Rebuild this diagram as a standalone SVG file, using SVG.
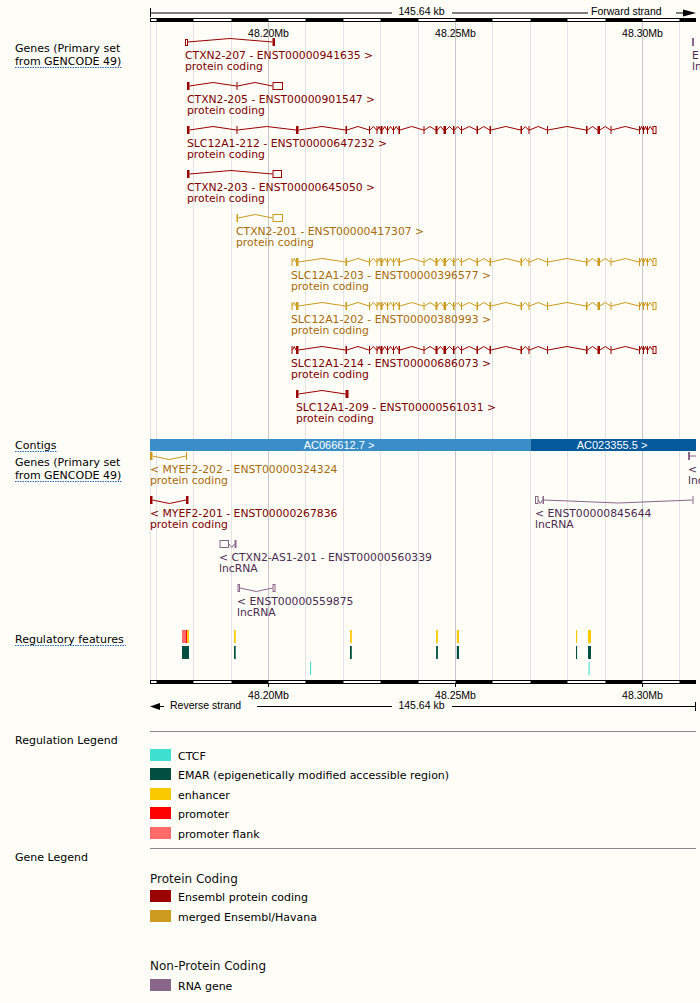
<svg xmlns="http://www.w3.org/2000/svg" width="700" height="1003" viewBox="0 0 700 1003">
<style>
.lab{font-family:"DejaVu Sans","Liberation Sans",sans-serif;font-size:11px;fill:#000}
.hd{font-family:"DejaVu Sans","Liberation Sans",sans-serif;font-size:12px;fill:#111}
.gl{font-family:"DejaVu Sans","Liberation Sans",sans-serif;font-size:10.8px}
.ru{font-family:"Liberation Sans",Arial,sans-serif;font-size:10.5px;fill:#000}
.ct{font-family:"Liberation Sans",Arial,sans-serif;font-size:11px;fill:#fff}
.ul{stroke:#2b6cb8;stroke-width:1;stroke-dasharray:1.5 1}
.gm{stroke:#e3e3e3;stroke-width:1}
.gM{stroke:#c6c6c6;stroke-width:1}
.intr{fill:none;stroke:currentColor;stroke-width:1}
.utr{fill:#fefdf7;stroke:currentColor;stroke-width:1}
.tr{fill:#7d0000}
.tg{fill:#a86b0a}
.tp{fill:#4b2c50}
.blk{fill:#000}
</style>
<defs>
<g id="slc" fill="currentColor">
<polyline class="intr" points="298.5,0 322,-3.5 345.5,0 347,0 358,-3.5 369,0 370,0 373.25,-3.5 376.5,0 377.5,0 379,-3.5 380.5,0 382.5,0 384.75,-3.5 387,0 388,0 390.5,-3.5 393,0 394,0 396.25,-3.5 398.5,0 400,0 411.75,-3.5 423.5,0 424.5,0 430,-3.5 435.5,0 437.5,0 440.5,-3.5 443.5,0 446,0 449.5,-3.5 453,0 454.5,0 457.75,-3.5 461,0 462,0 469.25,-3.5 476.5,0 478,0 483.75,-3.5 489.5,0 491,0 505.75,-3.5 520.5,0 522,0 525.25,-3.5 528.5,0 529.5,0 538.25,-3.5 547,0 548,0 567,-3.5 586,0 587.5,0 592.5,-3.5 597.5,0 600,0 605.25,-3.5 610.5,0 611.5,0 625.25,-3.5 639,0 640,0 641.5,-3.5 643,0 644,0 645.5,-3.5 647,0 648,0 650.25,-3.5 652.5,0"/>
<rect x="296" y="-4" width="2.5" height="8"/>
<rect x="345.5" y="-4" width="1.5" height="8"/>
<rect x="369" y="-4" width="1" height="8"/>
<rect x="376.5" y="-4" width="1" height="8"/>
<rect x="380.5" y="-4" width="2" height="8"/>
<rect x="387" y="-4" width="1" height="8"/>
<rect x="393" y="-4" width="1" height="8"/>
<rect x="398.5" y="-4" width="1.5" height="8"/>
<rect x="423.5" y="-4" width="1" height="8"/>
<rect x="435.5" y="-4" width="2" height="8"/>
<rect x="443.5" y="-4" width="2.5" height="8"/>
<rect x="453" y="-4" width="1.5" height="8"/>
<rect x="461" y="-4" width="1" height="8"/>
<rect x="476.5" y="-4" width="1.5" height="8"/>
<rect x="489.5" y="-4" width="1.5" height="8"/>
<rect x="520.5" y="-4" width="1.5" height="8"/>
<rect x="528.5" y="-4" width="1" height="8"/>
<rect x="547" y="-4" width="1" height="8"/>
<rect x="586" y="-4" width="1.5" height="8"/>
<rect x="597.5" y="-4" width="2.5" height="8"/>
<rect x="610.5" y="-4" width="1" height="8"/>
<rect x="639" y="-4" width="1" height="8"/>
<rect x="643" y="-4" width="1" height="8"/>
<rect x="647" y="-4" width="1" height="8"/>
<rect class="utr" x="653" y="-3.5" width="3" height="7"/>
</g>
</defs>

<rect x="0" y="0" width="700" height="1003" fill="#fefdf7"/>

<g id="grid">
<line class="gm" x1="150.5" y1="22" x2="150.5" y2="680"/>
<line class="gm" x1="156.5" y1="22" x2="156.5" y2="680"/>
<line class="gm" x1="193.5" y1="22" x2="193.5" y2="680"/>
<line class="gm" x1="231.5" y1="22" x2="231.5" y2="680"/>
<line class="gM" x1="268.5" y1="22" x2="268.5" y2="680"/>
<line class="gm" x1="305.5" y1="22" x2="305.5" y2="680"/>
<line class="gm" x1="343.5" y1="22" x2="343.5" y2="680"/>
<line class="gm" x1="380.5" y1="22" x2="380.5" y2="680"/>
<line class="gm" x1="418.5" y1="22" x2="418.5" y2="680"/>
<line class="gM" x1="455.5" y1="22" x2="455.5" y2="680"/>
<line class="gm" x1="492.5" y1="22" x2="492.5" y2="680"/>
<line class="gm" x1="530.5" y1="22" x2="530.5" y2="680"/>
<line class="gm" x1="567.5" y1="22" x2="567.5" y2="680"/>
<line class="gm" x1="605.5" y1="22" x2="605.5" y2="680"/>
<line class="gM" x1="642.5" y1="22" x2="642.5" y2="680"/>
<line class="gm" x1="679.5" y1="22" x2="679.5" y2="680"/>
</g>

<g id="ruler-top">
<line x1="150.5" y1="8" x2="150.5" y2="17" stroke="#000"/>
<line x1="150.5" y1="13" x2="392" y2="13" stroke="#000"/>
<text class="ru" x="421.5" y="15" text-anchor="middle">145.64 kb</text>
<line x1="452" y1="13" x2="588" y2="13" stroke="#000"/>
<text class="ru" x="591" y="15">Forward strand</text>
<line x1="676" y1="13" x2="684" y2="13" stroke="#000"/>
<polygon points="683,9.5 696,13 683,16.5" fill="#000"/>
<rect x="150.5" y="18.5" width="545" height="3" fill="#fff" stroke="#000"/>
<rect class="blk" x="156.5" y="18" width="37" height="4"/>
<rect class="blk" x="231.5" y="18" width="37" height="4"/>
<rect class="blk" x="305.5" y="18" width="38" height="4"/>
<rect class="blk" x="380.5" y="18" width="38" height="4"/>
<rect class="blk" x="455.5" y="18" width="37" height="4"/>
<rect class="blk" x="530.5" y="18" width="37" height="4"/>
<rect class="blk" x="605.5" y="18" width="37" height="4"/>
<rect class="blk" x="679.5" y="18" width="16.5" height="4"/>
<text class="ru" x="268.5" y="36.5" text-anchor="middle">48.20Mb</text>
<text class="ru" x="455.5" y="36.5" text-anchor="middle">48.25Mb</text>
<text class="ru" x="642.5" y="36.5" text-anchor="middle">48.30Mb</text>
</g>

<g id="track-labels">
<text class="lab" x="15" y="52">Genes (Primary set</text>
<text class="lab" x="15" y="65">from GENCODE 49)</text>
<line class="ul" x1="15" y1="67.5" x2="122" y2="67.5"/>
<text class="lab" x="15" y="449">Contigs</text>
<line class="ul" x1="15" y1="451.5" x2="57" y2="451.5"/>
<text class="lab" x="15" y="466">Genes (Primary set</text>
<text class="lab" x="15" y="479">from GENCODE 49)</text>
<line class="ul" x1="15" y1="481.5" x2="122" y2="481.5"/>
<text class="lab" x="15" y="643">Regulatory features</text>
<line class="ul" x1="15" y1="645.5" x2="126" y2="645.5"/>
</g>

<g id="connectors"></g>

<g id="CTXN2-207" color="#9a0000" fill="currentColor">
<polyline class="intr" points="187.5,42 230,38.5 272.5,42"/>
<rect class="utr" x="185.5" y="39.5" width="2" height="6"/>
<rect x="272.5" y="38" width="2.5" height="8"/>
<text class="gl tr" x="185" y="58.5">CTXN2-207 - ENST00000941635 &gt;</text>
<text class="gl tr" x="185" y="69.5">protein coding</text>
</g>

<g id="lnc-top-right" color="#8b668b" fill="currentColor">
<rect x="692" y="38" width="2" height="8"/>
<text class="gl tp" x="692" y="58.5">E</text>
<text class="gl tp" x="692" y="69.5">ln</text>
</g>

<g id="CTXN2-205" color="#9a0000" fill="currentColor">
<polyline class="intr" points="189.5,86 213,82.5 236.5,86 237.5,86 255,82.5 272.5,86"/>
<rect x="187" y="82" width="2.5" height="8"/>
<rect x="236.5" y="82" width="1" height="8"/>
<rect class="utr" x="273" y="82.5" width="9.5" height="7"/>
<text class="gl tr" x="187" y="102.5">CTXN2-205 - ENST00000901547 &gt;</text>
<text class="gl tr" x="187" y="113.5">protein coding</text>
</g>

<g id="SLC12A1-212" color="#9a0000" fill="currentColor">
<polyline class="intr" points="189.5,130 213,126.5 236.5,130 237.5,130 266.75,126.5 296,130"/>
<rect x="187" y="126" width="2.5" height="8"/>
<rect x="236.5" y="126" width="1" height="8"/>
<use href="#slc" y="130"/>
<text class="gl tr" x="187" y="146.5">SLC12A1-212 - ENST00000647232 &gt;</text>
<text class="gl tr" x="187" y="157.5">protein coding</text>
</g>

<g id="CTXN2-203" color="#9a0000" fill="currentColor">
<polyline class="intr" points="189.5,174 231,170.5 272.5,174"/>
<rect x="187" y="170" width="2.5" height="8"/>
<rect class="utr" x="273" y="170.5" width="8.5" height="7"/>
<text class="gl tr" x="187" y="190.5">CTXN2-203 - ENST00000645050 &gt;</text>
<text class="gl tr" x="187" y="201.5">protein coding</text>
</g>

<g id="CTXN2-201" color="#cd9b1d" fill="currentColor">
<polyline class="intr" points="238,218 255.25,214.5 272.5,218"/>
<rect x="236.5" y="214" width="1.5" height="8"/>
<rect class="utr" x="273" y="214.5" width="9.5" height="7"/>
<text class="gl tg" x="236" y="234.5">CTXN2-201 - ENST00000417307 &gt;</text>
<text class="gl tg" x="236" y="245.5">protein coding</text>
</g>

<g id="SLC12A1-203" color="#cd9b1d" fill="currentColor">
<polyline class="intr" points="292.5,262 294.25,258.5 296,262"/>
<rect x="291.5" y="258" width="1" height="8"/>
<use href="#slc" y="262"/>
<text class="gl tg" x="291" y="278.5">SLC12A1-203 - ENST00000396577 &gt;</text>
<text class="gl tg" x="291" y="289.5">protein coding</text>
</g>

<g id="SLC12A1-202" color="#cd9b1d" fill="currentColor">
<polyline class="intr" points="292.5,306 294.25,302.5 296,306"/>
<rect x="291.5" y="302" width="1" height="8"/>
<use href="#slc" y="306"/>
<text class="gl tg" x="291" y="322.5">SLC12A1-202 - ENST00000380993 &gt;</text>
<text class="gl tg" x="291" y="333.5">protein coding</text>
</g>

<g id="SLC12A1-214" color="#9a0000" fill="currentColor">
<polyline class="intr" points="292.5,350 294.25,346.5 296,350"/>
<rect x="291.5" y="346" width="1" height="8"/>
<use href="#slc" y="350"/>
<text class="gl tr" x="291" y="366.5">SLC12A1-214 - ENST00000686073 &gt;</text>
<text class="gl tr" x="291" y="377.5">protein coding</text>
</g>

<g id="SLC12A1-209" color="#9a0000" fill="currentColor">
<polyline class="intr" points="298.5,394 322,390.5 345.5,394"/>
<rect x="296" y="390" width="2.5" height="8"/>
<rect x="345.5" y="390" width="3" height="8"/>
<text class="gl tr" x="296" y="410.5">SLC12A1-209 - ENST00000561031 &gt;</text>
<text class="gl tr" x="296" y="421.5">protein coding</text>
</g>

<g id="contigs">
<rect x="150" y="439" width="380.5" height="12" fill="#398ec8"/>
<rect x="530.5" y="439" width="165.5" height="12" fill="#03599c"/>
<text class="ct" x="339" y="448.5" text-anchor="middle">AC066612.7 &gt;</text>
<text class="ct" x="612" y="448.5" text-anchor="middle">AC023355.5 &gt;</text>
</g>

<g id="MYEF2-202" color="#cd9b1d" fill="currentColor">
<polyline class="intr" points="152.5,456 169.25,459.5 186,456"/>
<rect x="150" y="452" width="2.5" height="8"/>
<rect x="186" y="452" width="1" height="8"/>
<text class="gl tg" x="150" y="473">&lt; MYEF2-202 - ENST00000324324</text>
<text class="gl tg" x="150" y="484">protein coding</text>
</g>

<g id="lnc-right-edge" color="#8b668b" fill="currentColor">
<line x1="690" y1="456" x2="696" y2="456" stroke="currentColor"/>
<rect x="688" y="452" width="2" height="8"/>
<text class="gl tp" x="688" y="473">&lt;</text>
<text class="gl tp" x="688" y="484">lnc</text>
</g>

<g id="MYEF2-201" color="#9a0000" fill="currentColor">
<polyline class="intr" points="152.5,500 169.25,503.5 186,500"/>
<rect x="150" y="496" width="2.5" height="8"/>
<rect x="186" y="496" width="2.5" height="8"/>
<text class="gl tr" x="150" y="517">&lt; MYEF2-201 - ENST00000267836</text>
<text class="gl tr" x="150" y="528">protein coding</text>
</g>

<g id="ENST00000845644" color="#8b668b" fill="currentColor">
<polyline class="intr" points="538,500 540.25,503.5 542.5,500 544,500 618.25,503 692.5,500"/>
<rect class="utr" x="535.5" y="496.5" width="2.5" height="7"/>
<rect x="542.5" y="496" width="1.5" height="8"/>
<rect x="692.5" y="496" width="1" height="8"/>
<text class="gl tp" x="535" y="517">&lt; ENST00000845644</text>
<text class="gl tp" x="535" y="528">lncRNA</text>
</g>

<g id="CTXN2-AS1-201" color="#8b668b" fill="currentColor">
<polyline class="intr" points="229,544 231.75,547.5 234.5,544"/>
<rect class="utr" x="220" y="540.5" width="8.5" height="7"/>
<rect x="234.5" y="540" width="2" height="8"/>
<text class="gl tp" x="219" y="561">&lt; CTXN2-AS1-201 - ENST00000560339</text>
<text class="gl tp" x="219" y="572">lncRNA</text>
</g>

<g id="ENST00000559875" color="#8b668b" fill="currentColor">
<polyline class="intr" points="240,588 256.25,591.5 272.5,588"/>
<rect class="utr" x="238" y="584.5" width="1.5" height="7"/>
<rect class="utr" x="273" y="584.5" width="2" height="7"/>
<text class="gl tp" x="237" y="605">&lt; ENST00000559875</text>
<text class="gl tp" x="237" y="616">lncRNA</text>
</g>

<g id="regulatory-features">
<rect x="182" y="630" width="3.7" height="13" fill="#ff6a6a"/>
<rect x="185.7" y="630" width="1.4" height="13" fill="#ff0000"/>
<rect x="187.1" y="630" width="1.9" height="13" fill="#fac900"/>
<rect x="234" y="630" width="1.7" height="13" fill="#fac900"/>
<rect x="350" y="630" width="1.8" height="13" fill="#fac900"/>
<rect x="436.1" y="630" width="1.8" height="13" fill="#fac900"/>
<rect x="456.8" y="630" width="2.2" height="13" fill="#fac900"/>
<rect x="576" y="630" width="1.1" height="13" fill="#fac900"/>
<rect x="588" y="630" width="3" height="13" fill="#fac900"/>
<rect x="182" y="646" width="7" height="13" fill="#004f40"/>
<rect x="234" y="646" width="1.7" height="13" fill="#004f40"/>
<rect x="350" y="646" width="1.8" height="13" fill="#004f40"/>
<rect x="436.1" y="646" width="1.8" height="13" fill="#004f40"/>
<rect x="456.8" y="646" width="2.2" height="13" fill="#004f40"/>
<rect x="576" y="646" width="1.1" height="13" fill="#004f40"/>
<rect x="588" y="646" width="3" height="13" fill="#004f40"/>
<rect x="310" y="662" width="1.1" height="13" fill="#40e0d0"/>
<rect x="588.6" y="662" width="1.1" height="13" fill="#40e0d0"/>
</g>

<g id="ruler-bottom">
<rect x="150.5" y="680.5" width="545" height="3" fill="#fff" stroke="#000"/>
<rect class="blk" x="156.5" y="680" width="37" height="4"/>
<rect class="blk" x="231.5" y="680" width="37" height="4"/>
<rect class="blk" x="305.5" y="680" width="38" height="4"/>
<rect class="blk" x="380.5" y="680" width="38" height="4"/>
<rect class="blk" x="455.5" y="680" width="37" height="4"/>
<rect class="blk" x="530.5" y="680" width="37" height="4"/>
<rect class="blk" x="605.5" y="680" width="37" height="4"/>
<rect class="blk" x="679.5" y="680" width="16.5" height="4"/>
<line x1="268.5" y1="684" x2="268.5" y2="687" stroke="#000"/>
<line x1="455.5" y1="684" x2="455.5" y2="687" stroke="#000"/>
<line x1="642.5" y1="684" x2="642.5" y2="687" stroke="#000"/>
<text class="ru" x="268.5" y="699" text-anchor="middle">48.20Mb</text>
<text class="ru" x="455.5" y="699" text-anchor="middle">48.25Mb</text>
<text class="ru" x="642.5" y="699" text-anchor="middle">48.30Mb</text>
<polygon points="150,706.5 160,703 160,710" fill="#000"/>
<line x1="159" y1="706.5" x2="164" y2="706.5" stroke="#000"/>
<text class="ru" x="170" y="708.5">Reverse strand</text>
<line x1="257" y1="706.5" x2="392" y2="706.5" stroke="#000"/>
<text class="ru" x="421.5" y="708.5" text-anchor="middle">145.64 kb</text>
<line x1="452" y1="706.5" x2="695.5" y2="706.5" stroke="#000"/>
<line x1="695.5" y1="702" x2="695.5" y2="711" stroke="#000"/>
</g>

<g id="regulation-legend">
<line x1="150" y1="731.5" x2="696" y2="731.5" stroke="#8a8a8a"/>
<text class="lab" x="15" y="744">Regulation Legend</text>
<rect x="150" y="749" width="21" height="12" fill="#40e0d0"/>
<text class="lab" x="178" y="760">CTCF</text>
<rect x="150" y="768" width="21" height="12" fill="#004f40"/>
<text class="lab" x="178" y="779">EMAR (epigenetically modified accessible region)</text>
<rect x="150" y="788" width="21" height="12" fill="#fac900"/>
<text class="lab" x="178" y="799">enhancer</text>
<rect x="150" y="807" width="21" height="12" fill="#ff0000"/>
<text class="lab" x="178" y="818">promoter</text>
<rect x="150" y="827" width="21" height="12" fill="#ff6a6a"/>
<text class="lab" x="178" y="838">promoter flank</text>
</g>

<g id="gene-legend">
<line x1="150" y1="848.5" x2="696" y2="848.5" stroke="#8a8a8a"/>
<text class="lab" x="15" y="861">Gene Legend</text>
<text class="hd" x="150" y="882.5">Protein Coding</text>
<rect x="150" y="890" width="21" height="12" fill="#9a0000"/>
<text class="lab" x="178" y="901">Ensembl protein coding</text>
<rect x="150" y="910" width="21" height="12" fill="#cd9b1d"/>
<text class="lab" x="178" y="921">merged Ensembl/Havana</text>
<text class="hd" x="150" y="970">Non-Protein Coding</text>
<rect x="150" y="979" width="21" height="12" fill="#8b668b"/>
<text class="lab" x="178" y="990">RNA gene</text>
</g>
</svg>
